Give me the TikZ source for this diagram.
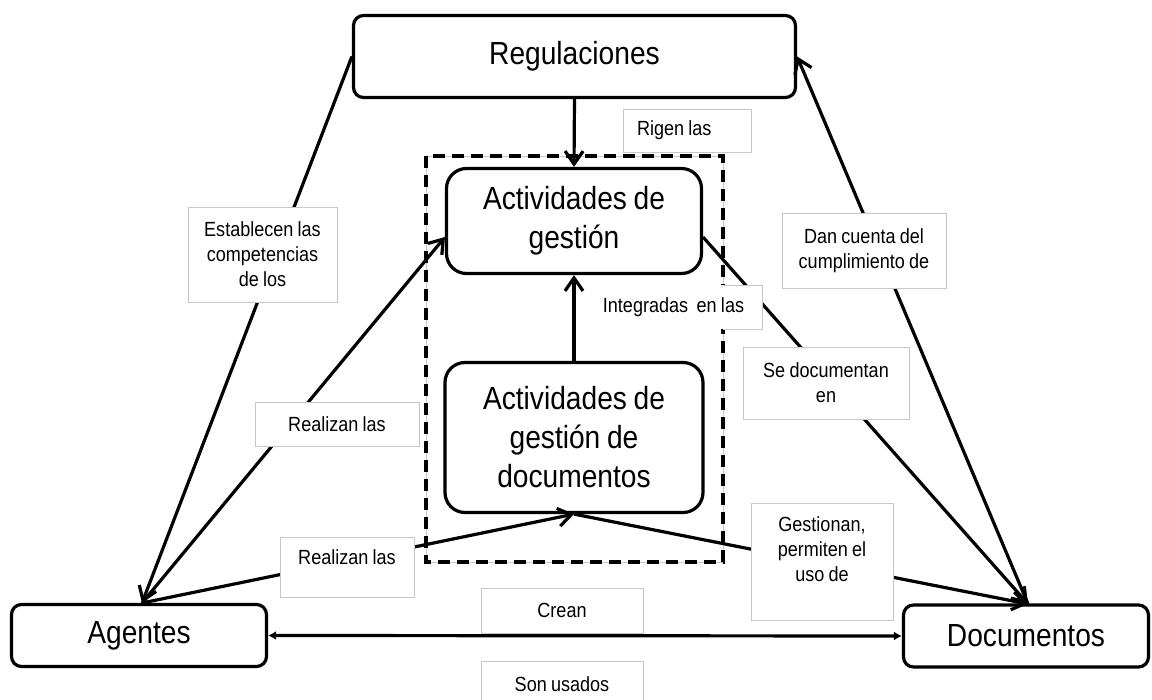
\documentclass[tikz,border=0pt]{standalone}
\usepackage{fontspec}
\setmainfont{Liberation Sans}[FakeStretch=0.88,WordSpace=0.85]
\usetikzlibrary{arrows.meta}

\begin{document}
\begin{tikzpicture}[x=1pt,y=-1pt,
            box/.style={draw,line width=3.2pt,rounded corners=10pt,fill=white,align=center,inner sep=0pt,
                font=\fontsize{32}{39}\selectfont},
            lbl/.style={draw=black!22,line width=0.8pt,fill=white,align=center,inner sep=0pt,
                font=\fontsize{20.5}{25}\selectfont},
            tip/.style={-{Straight Barb[length=13pt,width=18pt]}}]
                \useasboundingbox (0,0) rectangle (1152,700);
                \draw[black!22,line width=0.8pt] (426,156) rectangle (723,562);
                \draw[line width=3.2pt,dash pattern=on 12pt off 7pt] (426,156) rectangle (723,562);

                \node[box,minimum width=442pt,minimum height=82pt](reg) at (574.5,56.5) {Regulaciones};
                \node[box,rounded corners=20pt,minimum width=255pt,minimum height=105pt](gest) at (574,221) {Actividades de\\gestión};
                \node[box,rounded corners=20pt,minimum width=258pt,minimum height=150pt](gdoc) at (574,437.5) {Actividades de\\gestión de\\documentos};
                \node[box,minimum width=255pt,minimum height=62pt](ag) at (139,635.5) {Agentes};
                \node[box,minimum width=245pt,minimum height=62pt](doc) at (1026,636) {Documentos};

                \coordinate (agtop) at (142,603);
                \coordinate (doctop) at (1028,604);
                \coordinate (gestl) at (445,237);
                \coordinate (gestr) at (703,237);

            \begin{scope}[line width=3.2pt]
                \draw[tip](reg.south)--(gest.north);
                \draw[tip](gdoc.north)--(gest.south);
                \draw[tip](reg.west)--(agtop);
                \draw[tip](agtop)--(gestl);
                \draw[tip](agtop)--(gdoc.south);
                \draw[tip](gestr)--(doctop);
                \draw[tip](gdoc.south)--(doctop);
                \draw[tip](doctop)--(reg.east);
                \draw[{Latex[length=8pt,width=9pt]}-{Latex[length=8pt,width=9pt]}](ag.east)--(doc.west);
            \end{scope}

                \node[lbl,minimum width=128pt,minimum height=43pt,text width=100pt,align=flush left](rigen) at (687,130.5) {Rigen las};
                \node[lbl,minimum width=149pt,minimum height=95pt](estab) at (262.5,254.5) {Establecen las\\competencias\\de los};
                \node[lbl,minimum width=164pt,minimum height=75pt](cuenta) at (864,250.5) {Dan cuenta del\\cumplimiento de};
                \node[lbl,draw=none,minimum width=177pt,minimum height=44pt](integ) at (673.5,307) {Integradas\ \ en las};
                \draw[black!22,line width=0.8pt] (723,285) -| (762,329) -- (723,329);
                \node[lbl,minimum width=166pt,minimum height=72pt](sedoc) at (826,383) {Se documentan\\en};
                \node[lbl,minimum width=164pt,minimum height=44pt](real1) at (337,424) {Realizan las};
                \node[lbl](real2) at (347,567) {\parbox[c][60pt][t]{134pt}{\centering\vspace*{13pt}Realizan las}};
                \node[lbl](gestn) at (822,561.5) {\parbox[c][117pt][t]{142pt}{\centering\vspace*{14pt}Gestionan,\\permiten el\\uso de}};
                \node[lbl,minimum width=162pt,minimum height=45pt](crean) at (562,610.5) {Crean};
                \node[lbl,minimum width=162pt,minimum height=45pt](usados) at (562,684) {Son usados};
        \end{tikzpicture}
\end{document}
